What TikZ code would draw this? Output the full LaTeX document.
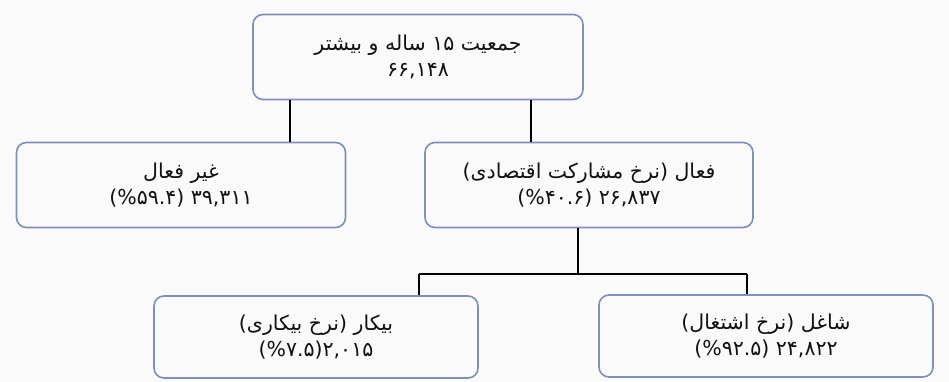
\documentclass[tikz,border=0pt]{standalone}
\usepackage{fontspec}
\newfontfamily\arabicfont[Script=Arabic]{DejaVu Sans}
\TeXXeTstate=1
\usetikzlibrary{calc,positioning}
\definecolor{boxborder}{HTML}{7E8FBC}
\definecolor{pagebg}{HTML}{FAFAFA}
\definecolor{boxtext}{HTML}{111111}

\begin{document}
\begin{tikzpicture}[x=1pt,y=-1pt,
    box/.style={draw=boxborder, line width=1.6pt, rounded corners=10pt,
        fill=pagebg, text=boxtext, minimum height=85pt, align=center,
        font=\arabicfont\fontsize{20.5}{26}\selectfont},
    link/.style={line width=1.2pt, draw=black}]
    \fill[pagebg] (0,0) rectangle (949,382);

    % population tree
    \node[box, minimum width=330pt] (total) at (418,57)
        {\beginR جمعیت ۱۵ ساله و بیشتر\endR\\\beginR ۶۶,۱۴۸\endR};
    \node[box, minimum width=329pt] (inactive) at (181,185)
        {\beginR غیر فعال\endR\\\beginR ۳۹,۳۱۱ (\%۵۹.۴)\endR};
    \node[box, minimum width=328pt] (active) at (589,185)
        {\beginR فعال (نرخ مشارکت اقتصادی)\endR\\\beginR ۲۶,۸۳۷ (\%۴۰.۶)\endR};
    \node[box, minimum width=324pt, minimum height=82pt] (unemployed) at (316,337)
        {\beginR بیکار (نرخ بیکاری)\endR\\\beginR ۲,۰۱۵(\%۷.۵)\endR};
    \node[box, minimum width=334pt, minimum height=82pt] (employed) at (766,336)
        {\beginR شاغل (نرخ اشتغال)\endR\\\beginR ۲۴,۸۲۲ (\%۹۲.۵)\endR};

    \coordinate (leftdrop) at (290,0);
    \coordinate (rightdrop) at (531,0);
    \draw[link] (total.south -| leftdrop) -- (inactive.north -| leftdrop);
    \draw[link] (total.south -| rightdrop) -- (active.north -| rightdrop);

    \coordinate (fork) at (578,274);
    \coordinate (forkL) at (419,274);
    \coordinate (forkR) at (747,274);
    \draw[link] (active.south -| fork) -- (fork);
    \draw[link] (forkL) -- (forkR);
    \draw[link] (forkL) -- (unemployed.north -| forkL);
    \draw[link] (forkR) -- (employed.north -| forkR);
\end{tikzpicture}
\end{document}
